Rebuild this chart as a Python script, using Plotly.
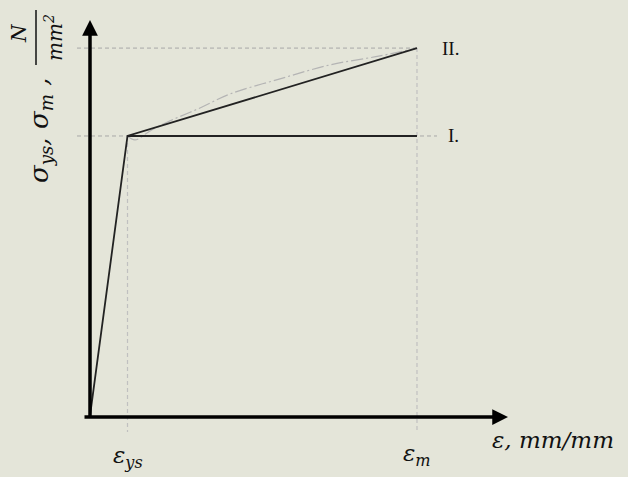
import plotly.graph_objects as go

# ---- data (normalised: strain in units of eps_ys, stress in units of sigma_ys) ----
strain_pts = [0.0, 1.0, 8.72]          # 0, eps_ys, eps_m
stress_pts = [0.0, 1.0, 1.314]         # 0, sigma_ys, sigma_m
case_I_x = [1.0, 8.72]
case_I_y = [1.0, 1.0]
real_x = [1.0, 1.2, 1.6, 2.133, 2.933, 3.733, 5.067, 6.4, 7.733, 8.72]
real_y = [1.0, 0.986, 1.018, 1.054, 1.100, 1.150, 1.204, 1.254, 1.286, 1.314]
tick_labels = ["ε<sub>ys</sub>", "ε<sub>m</sub>"]
case_labels = ["I.", "II."]

BG = "#e4e5d9"
W, H = 628, 477
X0, Y0 = -2.4, -0.2179
X1, Y1 = 14.347, 1.4857

def px(xp):
    return X0 + (X1 - X0) * xp / W

def py(yp):
    return Y1 - (Y1 - Y0) * yp / H

eps_ys, eps_m = strain_pts[1], strain_pts[2]
sig_ys, sig_m = stress_pts[1], stress_pts[2]

fig = go.Figure()

# guide dashed lines
guide = dict(color="#a8a8a8", width=1, dash="4px,3px")
fig.add_trace(go.Scatter(x=[px(77), eps_m], y=[sig_m, sig_m], mode="lines", line=guide, hoverinfo="skip"))
fig.add_trace(go.Scatter(x=[px(77), px(437)], y=[sig_ys, sig_ys], mode="lines", line=guide, hoverinfo="skip"))
fig.add_trace(go.Scatter(x=[eps_ys, eps_ys], y=[sig_ys, py(432)], mode="lines",
                         line=dict(color="#c0c0c0", width=1.2, dash="4px,3px"), hoverinfo="skip"))
fig.add_trace(go.Scatter(x=[eps_m, eps_m], y=[sig_m, py(432)], mode="lines",
                         line=dict(color="#c0c0c0", width=1.2, dash="4px,3px"), hoverinfo="skip"))

# real curve (dash-dot, light gray)
fig.add_trace(go.Scatter(x=real_x, y=real_y, mode="lines", line_shape="spline",
                         line=dict(color="#b4b4b4", width=1.2, dash="12px,3px,2px,3px"), hoverinfo="skip"))

# elastic + hardening (II) line
fig.add_trace(go.Scatter(x=strain_pts, y=stress_pts, mode="lines",
                         line=dict(color="#222222", width=1.8), hoverinfo="skip"))
# perfectly plastic (I) line
fig.add_trace(go.Scatter(x=case_I_x, y=case_I_y, mode="lines",
                         line=dict(color="#222222", width=2.2), hoverinfo="skip"))

annotations = []
# axes arrows
annotations.append(dict(x=0, y=py(20), ax=0, ay=py(419), xref="x", yref="y", axref="x", ayref="y",
                        showarrow=True, arrowhead=2, arrowsize=0.9, arrowwidth=3.5, arrowcolor="black", text=""))
annotations.append(dict(x=px(508), y=py(417), ax=px(83), ay=py(417), xref="x", yref="y", axref="x", ayref="y",
                        showarrow=True, arrowhead=2, arrowsize=0.9, arrowwidth=3.5, arrowcolor="black", text=""))

mathfont = dict(family="DejaVu Serif", size=23, color="#111111")
# x labels
annotations.append(dict(x=eps_ys, y=py(457), xref="x", yref="y", text="<i>" + tick_labels[0] + "</i>",
                        showarrow=False, font=mathfont))
annotations.append(dict(x=eps_m, y=py(455), xref="x", yref="y", text="<i>" + tick_labels[1] + "</i>",
                        showarrow=False, font=mathfont))
annotations.append(dict(x=px(553), y=py(440), xref="x", yref="y", text="<i>ε, mm/mm</i>",
                        showarrow=False, font=mathfont))
# case labels
casefont = dict(family="Liberation Serif", size=19, color="#111111")
annotations.append(dict(x=px(446), y=sig_ys, xref="x", yref="y", text=case_labels[0], xanchor="left",
                        showarrow=False, font=casefont))
annotations.append(dict(x=px(440), y=sig_m, xref="x", yref="y", text=case_labels[1], xanchor="left",
                        showarrow=False, font=casefont))

# y label (rotated)
annotations.append(dict(x=px(40), y=py(131), xref="x", yref="y", text="<i>σ<sub>ys</sub>, σ<sub>m</sub> ,</i>",
                        textangle=-90, showarrow=False, font=dict(family="DejaVu Serif", size=26, color="#111111")))
annotations.append(dict(x=px(19), y=py(33), xref="x", yref="y", text="<i>N</i>",
                        textangle=-90, showarrow=False, font=dict(family="DejaVu Serif", size=20, color="#111111")))
annotations.append(dict(x=px(54), y=py(38), xref="x", yref="y", text="<i>mm<sup>2</sup></i>",
                        textangle=-90, showarrow=False, font=dict(family="DejaVu Serif", size=20, color="#111111")))

shapes = [dict(type="line", xref="x", yref="y", x0=px(36), x1=px(36), y0=py(10), y1=py(65),
               line=dict(color="#111111", width=1.5))]

fig.update_layout(
    width=W, height=H,
    margin=dict(l=0, r=0, t=0, b=0),
    paper_bgcolor=BG, plot_bgcolor=BG,
    showlegend=False,
    xaxis=dict(range=[X0, X1], visible=False, fixedrange=True),
    yaxis=dict(range=[Y0, Y1], visible=False, fixedrange=True),
    annotations=annotations,
    shapes=shapes,
)

fig.write_html("out.html", config={"displayModeBar": False},
               post_script="document.body.style.margin='0';document.body.style.padding='0';"
                           "document.body.style.background='" + BG + "';")
